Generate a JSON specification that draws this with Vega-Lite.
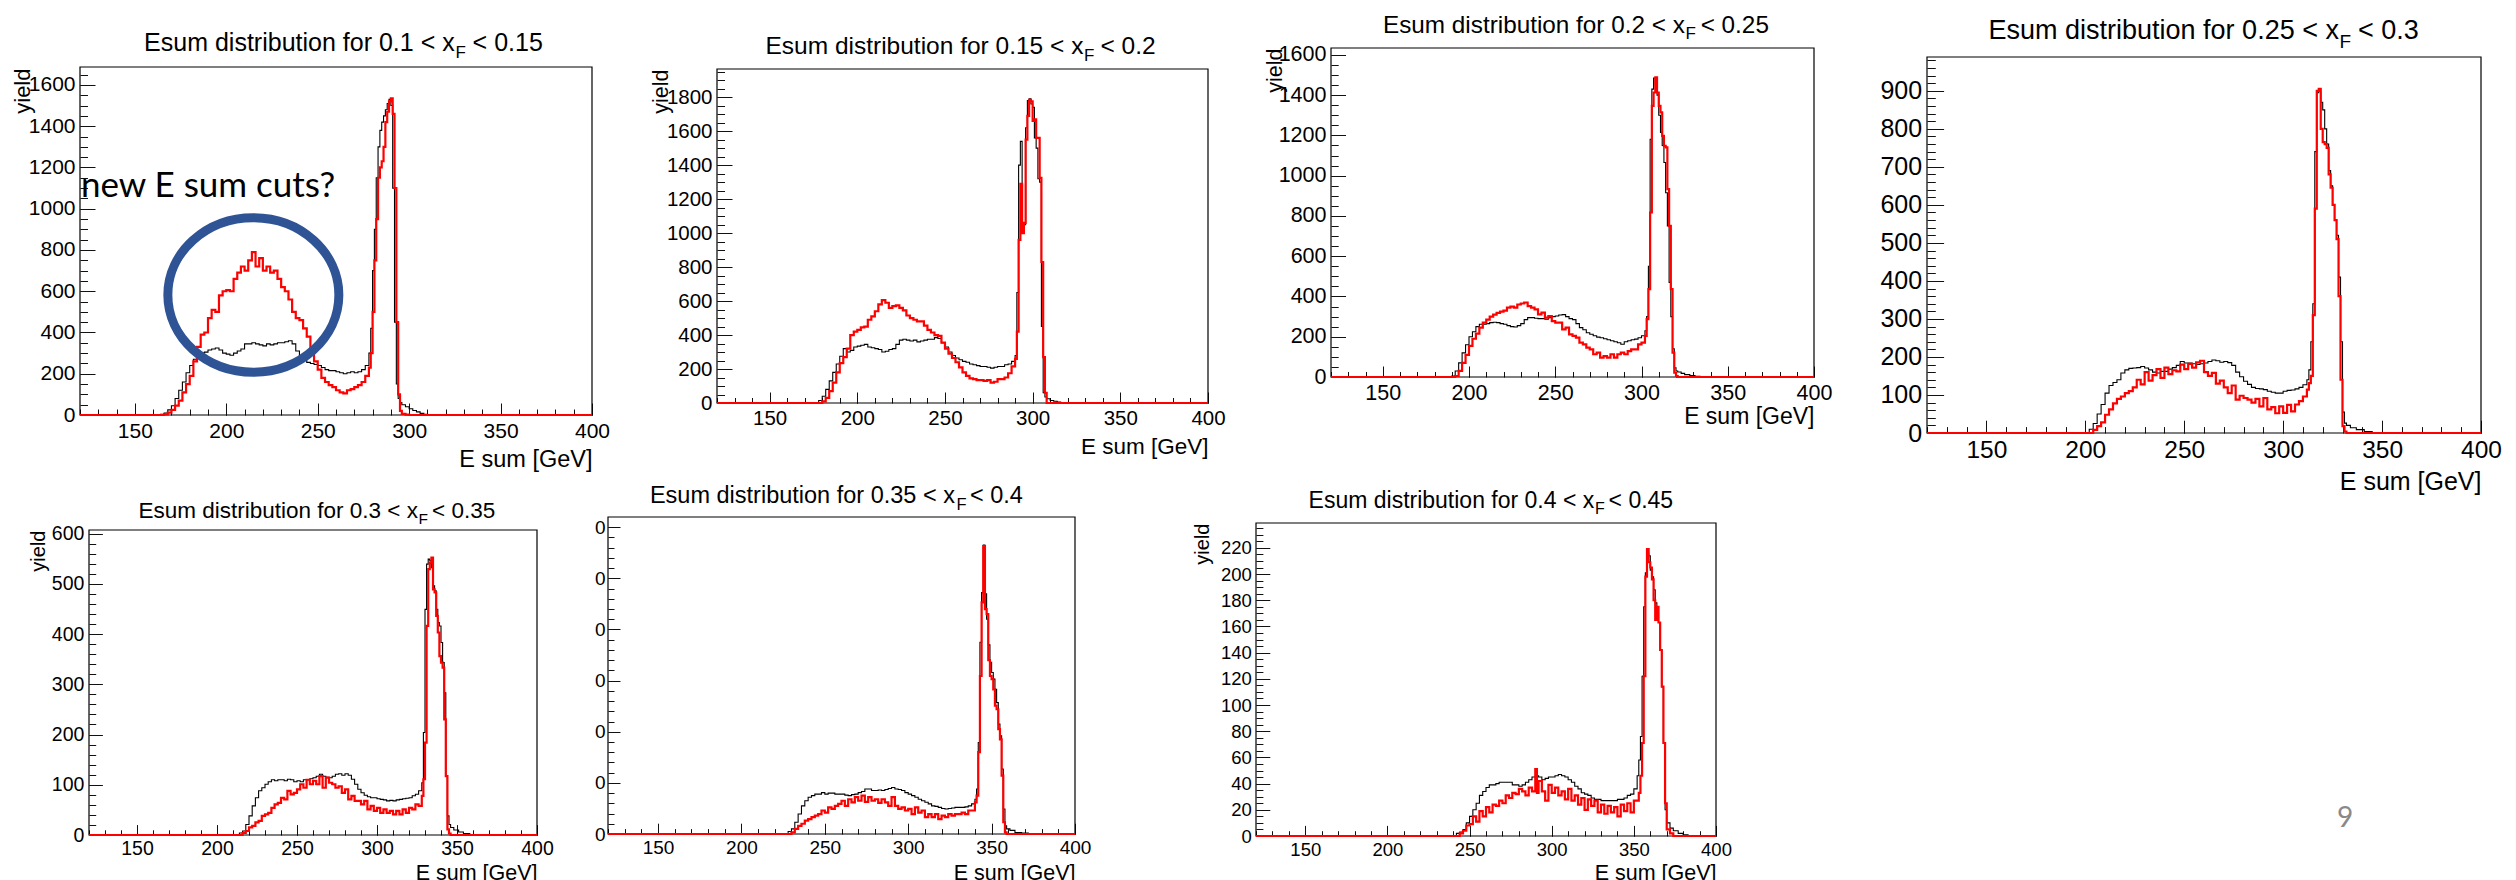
{
"$schema": "https://vega.github.io/schema/vega-lite/v6.json",
"background": "white",
"padding": 0,
"autosize": {"type": "pad"},
"columns": 8,
"spacing": 0,
"bounds": "flush",
"align": "each",
"config": {
  "view": {"stroke": null},
  "text": {"font": "Liberation Sans", "color": "#000"},
  "axis": {"labelFont": "Liberation Sans", "titleFont": "Liberation Sans", "labelColor": "#000", "titleColor": "#000", "tickColor": "#111", "tickWidth": 1, "domain": false, "grid": false, "titleFontWeight": "normal", "labelFlush": false, "labelOverlap": false, "format": "d"}
},
"datasets": {
"p1": [{"x":120,"k":0,"r":0},{"x":162,"k":0,"r":0},{"x":164,"k":3,"r":0},{"x":166,"k":10,"r":3},{"x":168,"k":25,"r":12},{"x":170,"k":45,"r":25},{"x":172,"k":80,"r":45},{"x":174,"k":120,"r":70},{"x":176,"k":160,"r":110},{"x":178,"k":205,"r":150},{"x":180,"k":240,"r":190},{"x":182,"k":270,"r":260},{"x":184,"k":295,"r":330},{"x":186,"k":300,"r":390},{"x":188,"k":305,"r":400},{"x":190,"k":315,"r":470},{"x":192,"k":320,"r":510},{"x":194,"k":325,"r":500},{"x":196,"k":315,"r":580},{"x":198,"k":300,"r":600},{"x":200,"k":295,"r":605},{"x":202,"k":290,"r":600},{"x":204,"k":300,"r":660},{"x":206,"k":310,"r":690},{"x":208,"k":320,"r":720},{"x":210,"k":345,"r":700},{"x":212,"k":345,"r":750},{"x":214,"k":350,"r":790},{"x":216,"k":345,"r":720},{"x":218,"k":340,"r":760},{"x":220,"k":335,"r":700},{"x":222,"k":345,"r":720},{"x":224,"k":340,"r":690},{"x":226,"k":345,"r":700},{"x":228,"k":350,"r":660},{"x":230,"k":350,"r":620},{"x":232,"k":355,"r":600},{"x":234,"k":360,"r":560},{"x":236,"k":345,"r":500},{"x":238,"k":310,"r":470},{"x":240,"k":280,"r":460},{"x":242,"k":265,"r":420},{"x":244,"k":255,"r":380},{"x":246,"k":250,"r":320},{"x":248,"k":245,"r":260},{"x":250,"k":240,"r":220},{"x":252,"k":230,"r":180},{"x":254,"k":220,"r":160},{"x":256,"k":215,"r":145},{"x":258,"k":215,"r":135},{"x":260,"k":210,"r":120},{"x":262,"k":205,"r":110},{"x":264,"k":200,"r":105},{"x":266,"k":205,"r":120},{"x":268,"k":210,"r":125},{"x":270,"k":205,"r":135},{"x":272,"k":210,"r":145},{"x":274,"k":220,"r":160},{"x":276,"k":240,"r":190},{"x":278,"k":300,"r":230},{"x":279,"k":420,"r":300},{"x":280,"k":700,"r":500},{"x":281,"k":900,"r":750},{"x":282,"k":1150,"r":950},{"x":283,"k":1300,"r":1150},{"x":284,"k":1380,"r":1200},{"x":285,"k":1420,"r":1230},{"x":286,"k":1450,"r":1300},{"x":287,"k":1480,"r":1420},{"x":288,"k":1510,"r":1470},{"x":289,"k":1530,"r":1520},{"x":290,"k":1500,"r":1535},{"x":291,"k":1100,"r":1460},{"x":292,"k":450,"r":1100},{"x":293,"k":150,"r":450},{"x":294,"k":80,"r":100},{"x":295,"k":60,"r":20},{"x":296,"k":50,"r":5},{"x":298,"k":40,"r":2},{"x":300,"k":30,"r":0},{"x":302,"k":22,"r":0},{"x":304,"k":15,"r":0},{"x":306,"k":8,"r":0},{"x":308,"k":3,"r":0},{"x":310,"k":0,"r":0},{"x":400,"k":0,"r":0}],
"p2": [{"x":120,"k":0,"r":0},{"x":176,"k":0,"r":0},{"x":178,"k":15,"r":0},{"x":180,"k":40,"r":10},{"x":182,"k":80,"r":30},{"x":184,"k":130,"r":70},{"x":186,"k":180,"r":120},{"x":188,"k":230,"r":180},{"x":190,"k":275,"r":235},{"x":192,"k":320,"r":270},{"x":194,"k":300,"r":320},{"x":196,"k":310,"r":400},{"x":198,"k":330,"r":420},{"x":200,"k":335,"r":430},{"x":202,"k":340,"r":445},{"x":204,"k":345,"r":450},{"x":206,"k":330,"r":490},{"x":208,"k":325,"r":510},{"x":210,"k":320,"r":540},{"x":212,"k":315,"r":580},{"x":214,"k":300,"r":605},{"x":216,"k":305,"r":590},{"x":218,"k":315,"r":560},{"x":220,"k":320,"r":570},{"x":222,"k":345,"r":575},{"x":224,"k":370,"r":560},{"x":226,"k":375,"r":545},{"x":228,"k":370,"r":515},{"x":230,"k":365,"r":500},{"x":232,"k":370,"r":490},{"x":234,"k":360,"r":480},{"x":236,"k":365,"r":480},{"x":238,"k":370,"r":455},{"x":240,"k":375,"r":430},{"x":242,"k":375,"r":415},{"x":244,"k":385,"r":400},{"x":246,"k":380,"r":395},{"x":248,"k":355,"r":355},{"x":250,"k":330,"r":320},{"x":252,"k":300,"r":290},{"x":254,"k":280,"r":265},{"x":256,"k":265,"r":240},{"x":258,"k":255,"r":210},{"x":260,"k":245,"r":180},{"x":262,"k":240,"r":160},{"x":264,"k":230,"r":145},{"x":266,"k":225,"r":140},{"x":268,"k":220,"r":135},{"x":270,"k":215,"r":135},{"x":272,"k":215,"r":130},{"x":274,"k":210,"r":135},{"x":276,"k":205,"r":120},{"x":278,"k":210,"r":125},{"x":280,"k":215,"r":140},{"x":282,"k":215,"r":140},{"x":284,"k":225,"r":150},{"x":286,"k":230,"r":175},{"x":288,"k":245,"r":215},{"x":290,"k":280,"r":260},{"x":291,"k":650,"r":420},{"x":292,"k":1400,"r":960},{"x":293,"k":1540,"r":1290},{"x":294,"k":1000,"r":1000},{"x":295,"k":1050,"r":1060},{"x":296,"k":1620,"r":1550},{"x":297,"k":1780,"r":1690},{"x":298,"k":1790,"r":1785},{"x":299,"k":1760,"r":1775},{"x":300,"k":1740,"r":1660},{"x":301,"k":1560,"r":1670},{"x":302,"k":1500,"r":1560},{"x":303,"k":1320,"r":1560},{"x":304,"k":1300,"r":1325},{"x":305,"k":450,"r":830},{"x":306,"k":60,"r":270},{"x":307,"k":35,"r":60},{"x":308,"k":25,"r":0},{"x":310,"k":15,"r":0},{"x":312,"k":10,"r":0},{"x":314,"k":6,"r":0},{"x":316,"k":3,"r":0},{"x":318,"k":0,"r":0},{"x":400,"k":0,"r":0}],
"p3": [{"x":120,"k":0,"r":0},{"x":188,"k":0,"r":0},{"x":190,"k":5,"r":0},{"x":192,"k":30,"r":5},{"x":194,"k":70,"r":30},{"x":196,"k":120,"r":70},{"x":198,"k":160,"r":110},{"x":200,"k":200,"r":155},{"x":202,"k":225,"r":190},{"x":204,"k":250,"r":215},{"x":206,"k":262,"r":245},{"x":208,"k":262,"r":270},{"x":210,"k":265,"r":285},{"x":212,"k":270,"r":300},{"x":214,"k":272,"r":310},{"x":216,"k":270,"r":318},{"x":218,"k":265,"r":325},{"x":220,"k":262,"r":330},{"x":222,"k":255,"r":345},{"x":224,"k":250,"r":350},{"x":226,"k":248,"r":345},{"x":228,"k":255,"r":360},{"x":230,"k":265,"r":365},{"x":232,"k":285,"r":370},{"x":234,"k":295,"r":352},{"x":236,"k":295,"r":345},{"x":238,"k":292,"r":336},{"x":240,"k":290,"r":311},{"x":242,"k":290,"r":320},{"x":244,"k":287,"r":295},{"x":246,"k":295,"r":303},{"x":248,"k":300,"r":278},{"x":250,"k":303,"r":270},{"x":252,"k":308,"r":270},{"x":254,"k":310,"r":237},{"x":256,"k":300,"r":245},{"x":258,"k":290,"r":212},{"x":260,"k":285,"r":204},{"x":262,"k":265,"r":196},{"x":264,"k":245,"r":171},{"x":266,"k":235,"r":162},{"x":268,"k":220,"r":146},{"x":270,"k":212,"r":137},{"x":272,"k":205,"r":113},{"x":274,"k":198,"r":121},{"x":276,"k":195,"r":96},{"x":278,"k":190,"r":104},{"x":280,"k":185,"r":96},{"x":282,"k":180,"r":113},{"x":284,"k":175,"r":96},{"x":286,"k":170,"r":113},{"x":288,"k":163,"r":121},{"x":290,"k":175,"r":113},{"x":292,"k":180,"r":129},{"x":294,"k":185,"r":137},{"x":296,"k":188,"r":137},{"x":298,"k":195,"r":162},{"x":300,"k":205,"r":171},{"x":302,"k":230,"r":204},{"x":303,"k":300,"r":287},{"x":304,"k":550,"r":436},{"x":305,"k":1180,"r":817},{"x":306,"k":1430,"r":1347},{"x":307,"k":1485,"r":1413},{"x":308,"k":1450,"r":1488},{"x":309,"k":1400,"r":1413},{"x":310,"k":1300,"r":1347},{"x":311,"k":1215,"r":1314},{"x":312,"k":1150,"r":1198},{"x":313,"k":1065,"r":1148},{"x":314,"k":915,"r":1140},{"x":315,"k":750,"r":933},{"x":316,"k":470,"r":751},{"x":317,"k":300,"r":436},{"x":318,"k":140,"r":121},{"x":319,"k":46,"r":21},{"x":320,"k":30,"r":5},{"x":321,"k":25,"r":0},{"x":323,"k":18,"r":0},{"x":325,"k":12,"r":0},{"x":328,"k":7,"r":0},{"x":331,"k":4,"r":0},{"x":334,"k":0,"r":0},{"x":400,"k":0,"r":0}],
"p4": [{"x":120,"k":0,"r":0},{"x":200,"k":0,"r":0},{"x":202,"k":10,"r":0},{"x":204,"k":25,"r":8},{"x":206,"k":50,"r":18},{"x":208,"k":75,"r":28},{"x":210,"k":105,"r":48},{"x":212,"k":125,"r":62},{"x":214,"k":133,"r":78},{"x":216,"k":140,"r":90},{"x":218,"k":158,"r":96},{"x":220,"k":166,"r":105},{"x":222,"k":170,"r":110},{"x":224,"k":171,"r":120},{"x":226,"k":172,"r":140},{"x":228,"k":175,"r":128},{"x":230,"k":171,"r":160},{"x":232,"k":166,"r":138},{"x":234,"k":160,"r":152},{"x":236,"k":158,"r":168},{"x":238,"k":162,"r":145},{"x":240,"k":162,"r":172},{"x":242,"k":168,"r":155},{"x":244,"k":172,"r":165},{"x":246,"k":178,"r":162},{"x":248,"k":188,"r":180},{"x":250,"k":184,"r":168},{"x":252,"k":184,"r":182},{"x":254,"k":182,"r":172},{"x":256,"k":180,"r":186},{"x":258,"k":182,"r":190},{"x":260,"k":184,"r":160},{"x":262,"k":188,"r":150},{"x":264,"k":192,"r":158},{"x":266,"k":190,"r":130},{"x":268,"k":186,"r":138},{"x":270,"k":188,"r":120},{"x":272,"k":185,"r":105},{"x":274,"k":178,"r":125},{"x":276,"k":160,"r":88},{"x":278,"k":148,"r":98},{"x":280,"k":136,"r":92},{"x":282,"k":128,"r":88},{"x":284,"k":120,"r":80},{"x":286,"k":117,"r":90},{"x":288,"k":116,"r":70},{"x":290,"k":114,"r":92},{"x":292,"k":110,"r":62},{"x":294,"k":107,"r":68},{"x":296,"k":105,"r":52},{"x":298,"k":105,"r":70},{"x":300,"k":110,"r":53},{"x":302,"k":112,"r":74},{"x":304,"k":113,"r":57},{"x":306,"k":116,"r":75},{"x":308,"k":120,"r":84},{"x":310,"k":127,"r":96},{"x":312,"k":140,"r":114},{"x":313,"k":166,"r":131},{"x":314,"k":240,"r":150},{"x":315,"k":340,"r":310},{"x":316,"k":740,"r":590},{"x":317,"k":895,"r":900},{"x":318,"k":900,"r":905},{"x":319,"k":870,"r":800},{"x":320,"k":850,"r":765},{"x":321,"k":800,"r":760},{"x":322,"k":760,"r":750},{"x":323,"k":690,"r":680},{"x":324,"k":650,"r":645},{"x":325,"k":600,"r":600},{"x":326,"k":560,"r":560},{"x":327,"k":520,"r":510},{"x":328,"k":410,"r":360},{"x":329,"k":240,"r":140},{"x":330,"k":55,"r":18},{"x":331,"k":26,"r":4},{"x":332,"k":20,"r":0},{"x":334,"k":14,"r":0},{"x":337,"k":9,"r":0},{"x":341,"k":4,"r":0},{"x":345,"k":0,"r":0},{"x":400,"k":0,"r":0}],
"p5": [{"x":120,"k":0,"r":0},{"x":212,"k":0,"r":0},{"x":214,"k":4,"r":0},{"x":216,"k":8,"r":4},{"x":218,"k":21,"r":8},{"x":220,"k":38,"r":15},{"x":222,"k":58,"r":18},{"x":224,"k":74,"r":25},{"x":226,"k":88,"r":28},{"x":228,"k":94,"r":38},{"x":230,"k":101,"r":41},{"x":232,"k":106,"r":44},{"x":234,"k":110,"r":54},{"x":236,"k":108,"r":61},{"x":238,"k":110,"r":64},{"x":240,"k":110,"r":74},{"x":242,"k":108,"r":71},{"x":244,"k":111,"r":88},{"x":246,"k":110,"r":81},{"x":248,"k":106,"r":84},{"x":250,"k":108,"r":91},{"x":252,"k":106,"r":101},{"x":254,"k":110,"r":94},{"x":256,"k":110,"r":110},{"x":258,"k":112,"r":101},{"x":260,"k":114,"r":108},{"x":262,"k":117,"r":101},{"x":264,"k":121,"r":117},{"x":266,"k":117,"r":94},{"x":268,"k":115,"r":114},{"x":270,"k":114,"r":104},{"x":272,"k":117,"r":101},{"x":274,"k":121,"r":94},{"x":276,"k":122,"r":97},{"x":278,"k":119,"r":84},{"x":280,"k":122,"r":91},{"x":282,"k":119,"r":71},{"x":284,"k":111,"r":78},{"x":286,"k":101,"r":68},{"x":288,"k":91,"r":68},{"x":290,"k":84,"r":61},{"x":292,"k":79,"r":68},{"x":294,"k":76,"r":51},{"x":296,"k":74,"r":58},{"x":298,"k":74,"r":48},{"x":300,"k":72,"r":54},{"x":302,"k":71,"r":44},{"x":304,"k":70,"r":51},{"x":306,"k":68,"r":44},{"x":308,"k":69,"r":48},{"x":310,"k":68,"r":41},{"x":312,"k":70,"r":48},{"x":314,"k":71,"r":41},{"x":316,"k":72,"r":51},{"x":318,"k":73,"r":44},{"x":320,"k":74,"r":54},{"x":322,"k":78,"r":51},{"x":324,"k":81,"r":61},{"x":326,"k":88,"r":58},{"x":328,"k":104,"r":78},{"x":329,"k":204,"r":111},{"x":330,"k":449,"r":184},{"x":331,"k":539,"r":416},{"x":332,"k":549,"r":529},{"x":333,"k":546,"r":542},{"x":334,"k":532,"r":552},{"x":335,"k":496,"r":489},{"x":336,"k":486,"r":483},{"x":337,"k":449,"r":436},{"x":338,"k":423,"r":403},{"x":339,"k":416,"r":356},{"x":340,"k":383,"r":343},{"x":341,"k":343,"r":333},{"x":342,"k":283,"r":230},{"x":343,"k":117,"r":117},{"x":344,"k":38,"r":11},{"x":345,"k":21,"r":3},{"x":346,"k":15,"r":0},{"x":348,"k":10,"r":0},{"x":351,"k":6,"r":0},{"x":354,"k":3,"r":0},{"x":358,"k":0,"r":0},{"x":400,"k":0,"r":0}],
"p6": [{"x":120,"k":0,"r":0},{"x":226,"k":0,"r":0},{"x":228,"k":5,"r":0},{"x":230,"k":10,"r":3},{"x":232,"k":23,"r":10},{"x":234,"k":39,"r":16},{"x":236,"k":55,"r":20},{"x":238,"k":65,"r":26},{"x":240,"k":72,"r":29},{"x":242,"k":75,"r":33},{"x":244,"k":78,"r":36},{"x":246,"k":78,"r":39},{"x":248,"k":81,"r":46},{"x":250,"k":78,"r":42},{"x":252,"k":80,"r":52},{"x":254,"k":80,"r":49},{"x":256,"k":78,"r":55},{"x":258,"k":78,"r":59},{"x":260,"k":78,"r":65},{"x":262,"k":76,"r":55},{"x":264,"k":75,"r":68},{"x":266,"k":77,"r":62},{"x":268,"k":78,"r":72},{"x":270,"k":81,"r":65},{"x":272,"k":83,"r":75},{"x":274,"k":88,"r":63},{"x":276,"k":88,"r":72},{"x":278,"k":85,"r":65},{"x":280,"k":85,"r":68},{"x":282,"k":86,"r":61},{"x":284,"k":85,"r":68},{"x":286,"k":87,"r":62},{"x":288,"k":89,"r":55},{"x":290,"k":91,"r":72},{"x":292,"k":88,"r":55},{"x":294,"k":87,"r":49},{"x":296,"k":85,"r":52},{"x":298,"k":81,"r":46},{"x":300,"k":78,"r":49},{"x":302,"k":75,"r":39},{"x":304,"k":72,"r":52},{"x":306,"k":68,"r":42},{"x":308,"k":65,"r":46},{"x":310,"k":62,"r":33},{"x":312,"k":59,"r":39},{"x":314,"k":55,"r":33},{"x":316,"k":54,"r":39},{"x":318,"k":52,"r":29},{"x":320,"k":50,"r":36},{"x":322,"k":49,"r":33},{"x":324,"k":50,"r":39},{"x":326,"k":51,"r":36},{"x":328,"k":52,"r":39},{"x":330,"k":52,"r":39},{"x":332,"k":52,"r":42},{"x":334,"k":53,"r":39},{"x":336,"k":55,"r":46},{"x":338,"k":59,"r":46},{"x":340,"k":68,"r":62},{"x":341,"k":88,"r":75},{"x":342,"k":179,"r":160},{"x":343,"k":375,"r":309},{"x":344,"k":472,"r":453},{"x":345,"k":565,"r":563},{"x":346,"k":470,"r":440},{"x":347,"k":420,"r":430},{"x":348,"k":370,"r":340},{"x":349,"k":336,"r":309},{"x":350,"k":316,"r":303},{"x":351,"k":303,"r":283},{"x":352,"k":283,"r":251},{"x":353,"k":257,"r":244},{"x":354,"k":215,"r":205},{"x":355,"k":192,"r":185},{"x":356,"k":127,"r":114},{"x":357,"k":49,"r":23},{"x":358,"k":16,"r":3},{"x":359,"k":10,"r":0},{"x":361,"k":7,"r":0},{"x":364,"k":3,"r":0},{"x":368,"k":2,"r":0},{"x":372,"k":0,"r":0},{"x":400,"k":0,"r":0}],
"p7": [{"x":120,"k":0,"r":0},{"x":240,"k":0,"r":0},{"x":242,"k":2,"r":0},{"x":244,"k":3,"r":2},{"x":246,"k":5,"r":4},{"x":248,"k":10,"r":8},{"x":250,"k":15,"r":9},{"x":252,"k":20,"r":15},{"x":254,"k":25,"r":11},{"x":256,"k":31,"r":19},{"x":258,"k":34,"r":15},{"x":260,"k":37,"r":22},{"x":262,"k":39,"r":18},{"x":264,"k":39,"r":24},{"x":266,"k":40,"r":23},{"x":268,"k":41,"r":27},{"x":270,"k":41,"r":25},{"x":272,"k":41,"r":31},{"x":274,"k":41,"r":29},{"x":276,"k":39,"r":33},{"x":278,"k":39,"r":32},{"x":280,"k":38,"r":36},{"x":282,"k":39,"r":34},{"x":284,"k":41,"r":31},{"x":286,"k":43,"r":37},{"x":288,"k":45,"r":34},{"x":290,"k":46,"r":51},{"x":291,"k":46,"r":33},{"x":292,"k":45,"r":42},{"x":294,"k":43,"r":34},{"x":296,"k":44,"r":27},{"x":298,"k":45,"r":39},{"x":300,"k":45,"r":33},{"x":302,"k":46,"r":37},{"x":304,"k":47,"r":31},{"x":306,"k":46,"r":34},{"x":308,"k":45,"r":28},{"x":310,"k":43,"r":36},{"x":312,"k":41,"r":27},{"x":314,"k":38,"r":31},{"x":316,"k":36,"r":24},{"x":318,"k":33,"r":29},{"x":320,"k":32,"r":20},{"x":322,"k":31,"r":28},{"x":324,"k":29,"r":23},{"x":326,"k":28,"r":27},{"x":328,"k":28,"r":18},{"x":330,"k":27,"r":24},{"x":332,"k":27,"r":17},{"x":334,"k":27,"r":23},{"x":336,"k":27,"r":18},{"x":338,"k":27,"r":22},{"x":340,"k":28,"r":15},{"x":342,"k":28,"r":24},{"x":344,"k":29,"r":19},{"x":346,"k":31,"r":25},{"x":348,"k":32,"r":18},{"x":350,"k":36,"r":27},{"x":352,"k":46,"r":27},{"x":353,"k":58,"r":33},{"x":354,"k":76,"r":46},{"x":355,"k":122,"r":71},{"x":356,"k":175,"r":122},{"x":357,"k":201,"r":198},{"x":358,"k":216,"r":219},{"x":359,"k":214,"r":209},{"x":360,"k":203,"r":205},{"x":361,"k":198,"r":196},{"x":362,"k":188,"r":180},{"x":363,"k":178,"r":165},{"x":364,"k":170,"r":175},{"x":365,"k":163,"r":163},{"x":366,"k":142,"r":142},{"x":367,"k":114,"r":114},{"x":368,"k":71,"r":71},{"x":369,"k":20,"r":25},{"x":370,"k":10,"r":5},{"x":372,"k":6,"r":2},{"x":374,"k":4,"r":0},{"x":377,"k":2,"r":0},{"x":380,"k":1,"r":0},{"x":383,"k":0,"r":0},{"x":400,"k":0,"r":0}]
},
"concat": [
{"width":80,"height":1,"data":{"values":[{}]},"mark":{"type":"text","text":""}},
{
 "width":512,"height":409,"data":{"name":"p1"},
 "resolve":{"axis":{"x":"independent","y":"independent"}},
 "layer":[
  {"data":{"values":[{}]},"mark":{"type":"rect","fill":"transparent","stroke":"#000","strokeWidth":1.2},
   "encoding":{"x":{"datum":120,"type":"quantitative","scale":{"domain":[120,400],"nice":false,"zero":false},"axis":null},"x2":{"datum":400},
     "y":{"datum":0,"type":"quantitative","scale":{"domain":[0,1982.7],"nice":false},"axis":null},"y2":{"datum":1687}}},
  {"mark":{"type":"line","interpolate":"step-after","color":"#000","strokeWidth":1.1},
   "encoding":{"x":{"field":"x","type":"quantitative","scale":{"domain":[120,400],"nice":false,"zero":false},
      "axis":{"orient":"bottom","values":[150,200,250,300,350,400],"tickSize":-12,"labelPadding":17,"labelFontSize":21,"title":"E sum [GeV]","titleFontSize":23.5,"titleX":512,"titleY":51,"titleAlign":"right","titleBaseline":"alphabetic"}},
     "y":{"field":"k","type":"quantitative","scale":{"domain":[0,1982.7],"nice":false},
      "axis":{"orient":"left","values":[0,200,400,600,800,1000,1200,1400,1600],"tickSize":-15,"labelPadding":20,"labelFontSize":21,"title":"yield","titleFontSize":22,"titleAngle":270,"titleAlign":"right","titleBaseline":"alphabetic","titleX":-51,"titleY":62}}}},
  {"mark":{"type":"line","interpolate":"step-after","color":"#ff0000","strokeWidth":2.2},
   "encoding":{"x":{"field":"x","type":"quantitative","scale":{"domain":[120,400],"nice":false,"zero":false},
      "axis":{"orient":"bottom","values":[120,130,140,150,160,170,180,190,200,210,220,230,240,250,260,270,280,290,300,310,320,330,340,350,360,370,380,390,400],"tickSize":-6,"labels":false,"title":null}},
     "y":{"field":"r","type":"quantitative","scale":{"domain":[0,1982.7],"nice":false},
      "axis":{"orient":"left","values":[0,50,100,150,200,250,300,350,400,450,500,550,600,650,700,750,800,850,900,950,1000,1050,1100,1150,1200,1250,1300,1350,1400,1450,1500,1550,1600,1650],"tickSize":-7.5,"labels":false,"title":null}}}},
  {"data":{"values":[{}]},"mark":{"type":"text","text":"Esum distribution for 0.1  < x","align":"right","baseline":"alphabetic","fontSize":25},
   "encoding":{"x":{"datum":324.9,"type":"quantitative","scale":{"domain":[120,400],"nice":false,"zero":false},"axis":null},"y":{"datum":1764.5,"type":"quantitative","scale":{"domain":[0,1982.7],"nice":false},"axis":null}}},
  {"data":{"values":[{}]},"mark":{"type":"text","text":"F","align":"left","baseline":"alphabetic","fontSize":17},
   "encoding":{"x":{"datum":325.3,"type":"quantitative","scale":{"domain":[120,400],"nice":false,"zero":false},"axis":null},"y":{"datum":1730.7,"type":"quantitative","scale":{"domain":[0,1982.7],"nice":false},"axis":null}}},
  {"data":{"values":[{}]},"mark":{"type":"text","text":"< 0.15","align":"left","baseline":"alphabetic","fontSize":25},
   "encoding":{"x":{"datum":334.7,"type":"quantitative","scale":{"domain":[120,400],"nice":false,"zero":false},"axis":null},"y":{"datum":1764.5,"type":"quantitative","scale":{"domain":[0,1982.7],"nice":false},"axis":null}}},
  {"data":{"values":[{}]},"mark":{"type":"point","shape":"M1.1075,0C1.1075,0.5523,0.6117,1,0,1C-0.6117,1,-1.1075,0.5523,-1.1075,0C-1.1075,-0.5523,-0.6117,-1,0,-1C0.6117,-1,1.1075,-0.5523,1.1075,0Z","size":23840,"filled":false,"stroke":"#2F5496","strokeWidth":9,"opacity":1},
   "encoding":{"x":{"datum":214.8,"type":"quantitative","scale":{"domain":[120,400],"nice":false,"zero":false},"axis":null},"y":{"datum":581.7,"type":"quantitative","scale":{"domain":[0,1982.7],"nice":false},"axis":null}}},
  {"data":{"values":[{}]},"mark":{"type":"text","text":"new E sum cuts?","align":"left","baseline":"alphabetic","fontSize":35,"font":"Lato"},
   "encoding":{"x":{"datum":120.5,"type":"quantitative","scale":{"domain":[120,400],"nice":false,"zero":false},"axis":null},"y":{"datum":1058.3,"type":"quantitative","scale":{"domain":[0,1982.7],"nice":false},"axis":null}}}
 ]
},
{"width":16,"height":1,"data":{"values":[{}]},"mark":{"type":"text","text":""}},
{
 "width":600,"height":397,"data":{"name":"p2"},
 "resolve":{"axis":{"x":"independent","y":"independent"}},
 "layer":[
  {"data":{"values":[{}]},"mark":{"type":"rect","fill":"transparent","stroke":"#000","strokeWidth":1.2},
   "encoding":{"x":{"datum":120,"type":"quantitative","scale":{"domain":[57.84,400],"nice":false,"zero":false},"axis":null},"x2":{"datum":400},
     "y":{"datum":0,"type":"quantitative","scale":{"domain":[0,2336.8],"nice":false},"axis":null},"y2":{"datum":1966}}},
  {"mark":{"type":"line","interpolate":"step-after","color":"#000","strokeWidth":1.1},
   "encoding":{"x":{"field":"x","type":"quantitative","scale":{"domain":[57.84,400],"nice":false,"zero":false},
      "axis":{"orient":"bottom","values":[150,200,250,300,350,400],"tickSize":-11,"labelPadding":16,"labelFontSize":20.5,"title":"E sum [GeV]","titleFontSize":22.5,"titleX":600,"titleY":50,"titleAlign":"right","titleBaseline":"alphabetic"}},
     "y":{"field":"k","type":"quantitative","scale":{"domain":[0,2336.8],"nice":false},
      "axis":{"orient":"left","offset":-109,"values":[0,200,400,600,800,1000,1200,1400,1600,1800],"tickSize":-15,"labelPadding":20,"labelFontSize":20.5,"title":"yield","titleFontSize":21.5,"titleAngle":270,"titleAlign":"right","titleBaseline":"alphabetic","titleX":-50,"titleY":63}}}},
  {"mark":{"type":"line","interpolate":"step-after","color":"#ff0000","strokeWidth":2.2},
   "encoding":{"x":{"field":"x","type":"quantitative","scale":{"domain":[57.84,400],"nice":false,"zero":false},
      "axis":{"orient":"bottom","values":[120,130,140,150,160,170,180,190,200,210,220,230,240,250,260,270,280,290,300,310,320,330,340,350,360,370,380,390,400],"tickSize":-5.5,"labels":false,"title":null}},
     "y":{"field":"r","type":"quantitative","scale":{"domain":[0,2336.8],"nice":false},
      "axis":{"orient":"left","offset":-109,"values":[0,50,100,150,200,250,300,350,400,450,500,550,600,650,700,750,800,850,900,950,1000,1050,1100,1150,1200,1250,1300,1350,1400,1450,1500,1550,1600,1650,1700,1750,1800,1850,1900,1950],"tickSize":-7.5,"labels":false,"title":null}}}},
  {"data":{"values":[{}]},"mark":{"type":"text","text":"Esum distribution for 0.15 < x","align":"right","baseline":"alphabetic","fontSize":24.5},
   "encoding":{"x":{"datum":328.96,"type":"quantitative","scale":{"domain":[57.84,400],"nice":false,"zero":false},"axis":null},"y":{"datum":2052.4,"type":"quantitative","scale":{"domain":[0,2336.8],"nice":false},"axis":null}}},
  {"data":{"values":[{}]},"mark":{"type":"text","text":"F","align":"left","baseline":"alphabetic","fontSize":17},
   "encoding":{"x":{"datum":329.3,"type":"quantitative","scale":{"domain":[57.84,400],"nice":false,"zero":false},"axis":null},"y":{"datum":2013,"type":"quantitative","scale":{"domain":[0,2336.8],"nice":false},"axis":null}}},
  {"data":{"values":[{}]},"mark":{"type":"text","text":"< 0.2","align":"left","baseline":"alphabetic","fontSize":24.5},
   "encoding":{"x":{"datum":338.65,"type":"quantitative","scale":{"domain":[57.84,400],"nice":false,"zero":false},"axis":null},"y":{"datum":2052.4,"type":"quantitative","scale":{"domain":[0,2336.8],"nice":false},"axis":null}}}
 ]
},
{"width":48,"height":1,"data":{"values":[{}]},"mark":{"type":"text","text":""}},
{
 "width":558,"height":371,"data":{"name":"p3"},
 "resolve":{"axis":{"x":"independent","y":"independent"}},
 "layer":[
  {"data":{"values":[{}]},"mark":{"type":"rect","fill":"transparent","stroke":"#000","strokeWidth":1.2},
   "encoding":{"x":{"datum":120,"type":"quantitative","scale":{"domain":[76.52,400],"nice":false,"zero":false},"axis":null},"x2":{"datum":400},
     "y":{"datum":0,"type":"quantitative","scale":{"domain":[0,1842.6],"nice":false},"axis":null},"y2":{"datum":1634}}},
  {"mark":{"type":"line","interpolate":"step-after","color":"#000","strokeWidth":1.1},
   "encoding":{"x":{"field":"x","type":"quantitative","scale":{"domain":[76.52,400],"nice":false,"zero":false},
      "axis":{"orient":"bottom","values":[150,200,250,300,350,400],"tickSize":-11,"labelPadding":16,"labelFontSize":21.5,"title":"E sum [GeV]","titleFontSize":23,"titleX":558,"titleY":46,"titleAlign":"right","titleBaseline":"alphabetic"}},
     "y":{"field":"k","type":"quantitative","scale":{"domain":[0,1842.6],"nice":false},
      "axis":{"orient":"left","offset":-75,"values":[0,200,400,600,800,1000,1200,1400,1600],"tickSize":-14.5,"labelPadding":19.5,"labelFontSize":21.5,"title":"yield","titleFontSize":21.5,"titleAngle":270,"titleAlign":"right","titleBaseline":"alphabetic","titleX":-50,"titleY":42}}}},
  {"mark":{"type":"line","interpolate":"step-after","color":"#ff0000","strokeWidth":2.2},
   "encoding":{"x":{"field":"x","type":"quantitative","scale":{"domain":[76.52,400],"nice":false,"zero":false},
      "axis":{"orient":"bottom","values":[120,130,140,150,160,170,180,190,200,210,220,230,240,250,260,270,280,290,300,310,320,330,340,350,360,370,380,390,400],"tickSize":-5.5,"labels":false,"title":null}},
     "y":{"field":"r","type":"quantitative","scale":{"domain":[0,1842.6],"nice":false},
      "axis":{"orient":"left","offset":-75,"values":[0,50,100,150,200,250,300,350,400,450,500,550,600,650,700,750,800,850,900,950,1000,1050,1100,1150,1200,1250,1300,1350,1400,1450,1500,1550,1600],"tickSize":-7.2,"labels":false,"title":null}}}},
  {"data":{"values":[{}]},"mark":{"type":"text","text":"Esum distribution for 0.2  < x","align":"right","baseline":"alphabetic","fontSize":24.3},
   "encoding":{"x":{"datum":325.1,"type":"quantitative","scale":{"domain":[76.52,400],"nice":false,"zero":false},"axis":null},"y":{"datum":1710.2,"type":"quantitative","scale":{"domain":[0,1842.6],"nice":false},"axis":null}}},
  {"data":{"values":[{}]},"mark":{"type":"text","text":"F","align":"left","baseline":"alphabetic","fontSize":17},
   "encoding":{"x":{"datum":325.5,"type":"quantitative","scale":{"domain":[76.52,400],"nice":false,"zero":false},"axis":null},"y":{"datum":1678.8,"type":"quantitative","scale":{"domain":[0,1842.6],"nice":false},"axis":null}}},
  {"data":{"values":[{}]},"mark":{"type":"text","text":"< 0.25","align":"left","baseline":"alphabetic","fontSize":24.3},
   "encoding":{"x":{"datum":334.3,"type":"quantitative","scale":{"domain":[76.52,400],"nice":false,"zero":false},"axis":null},"y":{"datum":1710.2,"type":"quantitative","scale":{"domain":[0,1842.6],"nice":false},"axis":null}}}
 ]
},
{"width":113,"height":1,"data":{"values":[{}]},"mark":{"type":"text","text":""}},
{
 "width":554,"height":427,"data":{"name":"p4"},
 "resolve":{"axis":{"x":"independent","y":"independent"}},
 "layer":[
  {"data":{"values":[{}]},"mark":{"type":"rect","fill":"transparent","stroke":"#000","strokeWidth":1.2},
   "encoding":{"x":{"datum":120,"type":"quantitative","scale":{"domain":[120,400],"nice":false,"zero":false},"axis":null},"x2":{"datum":400},
     "y":{"datum":0,"type":"quantitative","scale":{"domain":[0,1123.1],"nice":false},"axis":null},"y2":{"datum":989}}},
  {"mark":{"type":"line","interpolate":"step-after","color":"#000","strokeWidth":1.1},
   "encoding":{"x":{"field":"x","type":"quantitative","scale":{"domain":[120,400],"nice":false,"zero":false},
      "axis":{"orient":"bottom","values":[150,200,250,300,350,400],"tickSize":-12.8,"labelPadding":18,"labelFontSize":24.5,"title":"E sum [GeV]","titleFontSize":25,"titleX":554,"titleY":56,"titleAlign":"right","titleBaseline":"alphabetic"}},
     "y":{"field":"k","type":"quantitative","scale":{"domain":[0,1123.1],"nice":false},
      "axis":{"orient":"left","values":[0,100,200,300,400,500,600,700,800,900],"tickSize":-16.6,"labelPadding":22,"labelFontSize":25,"title":null}}}},
  {"mark":{"type":"line","interpolate":"step-after","color":"#ff0000","strokeWidth":2.2},
   "encoding":{"x":{"field":"x","type":"quantitative","scale":{"domain":[120,400],"nice":false,"zero":false},
      "axis":{"orient":"bottom","values":[120,130,140,150,160,170,180,190,200,210,220,230,240,250,260,270,280,290,300,310,320,330,340,350,360,370,380,390,400],"tickSize":-6.4,"labels":false,"title":null}},
     "y":{"field":"r","type":"quantitative","scale":{"domain":[0,1123.1],"nice":false},
      "axis":{"orient":"left","values":[0,20,40,60,80,100,120,140,160,180,200,220,240,260,280,300,320,340,360,380,400,420,440,460,480,500,520,540,560,580,600,620,640,660,680,700,720,740,760,780,800,820,840,860,880,900,920,940,960,980],"tickSize":-8.3,"labels":false,"title":null}}}},
  {"data":{"values":[{}]},"mark":{"type":"text","text":"Esum distribution for 0.25 < x","align":"right","baseline":"alphabetic","fontSize":27},
   "encoding":{"x":{"datum":328.2,"type":"quantitative","scale":{"domain":[120,400],"nice":false,"zero":false},"axis":null},"y":{"datum":1035.4,"type":"quantitative","scale":{"domain":[0,1123.1],"nice":false},"axis":null}}},
  {"data":{"values":[{}]},"mark":{"type":"text","text":"F","align":"left","baseline":"alphabetic","fontSize":19},
   "encoding":{"x":{"datum":328.5,"type":"quantitative","scale":{"domain":[120,400],"nice":false,"zero":false},"axis":null},"y":{"datum":1013.3,"type":"quantitative","scale":{"domain":[0,1123.1],"nice":false},"axis":null}}},
  {"data":{"values":[{}]},"mark":{"type":"text","text":"< 0.3","align":"left","baseline":"alphabetic","fontSize":27},
   "encoding":{"x":{"datum":337.8,"type":"quantitative","scale":{"domain":[120,400],"nice":false,"zero":false},"axis":null},"y":{"datum":1035.4,"type":"quantitative","scale":{"domain":[0,1123.1],"nice":false},"axis":null}}}
 ]
},

{"width":80,"height":1,"data":{"values":[{}]},"mark":{"type":"text","text":""}},
{
 "width":457,"height":402,"data":{"name":"p5"},
 "resolve":{"axis":{"x":"independent","y":"independent"}},
 "layer":[
  {"data":{"values":[{}]},"mark":{"type":"rect","fill":"transparent","stroke":"#000","strokeWidth":1.2},
   "encoding":{"x":{"datum":120,"type":"quantitative","scale":{"domain":[114.375,400],"nice":false,"zero":false},"axis":null},"x2":{"datum":400},
     "y":{"datum":0,"type":"quantitative","scale":{"domain":[0,800.05],"nice":false},"axis":null},"y2":{"datum":607}}},
  {"mark":{"type":"line","interpolate":"step-after","color":"#000","strokeWidth":1.1},
   "encoding":{"x":{"field":"x","type":"quantitative","scale":{"domain":[114.375,400],"nice":false,"zero":false},
      "axis":{"orient":"bottom","values":[150,200,250,300,350,400],"tickSize":-10.4,"labelPadding":15,"labelFontSize":19.5,"title":"E sum [GeV]","titleFontSize":21.5,"titleX":457,"titleY":44,"titleAlign":"right","titleBaseline":"alphabetic"}},
     "y":{"field":"k","type":"quantitative","scale":{"domain":[0,800.05],"nice":false},
      "axis":{"orient":"left","offset":-9,"values":[0,100,200,300,400,500,600],"tickSize":-13.4,"labelPadding":18.5,"labelFontSize":19.5,"title":"yield","titleFontSize":20,"titleAngle":270,"titleAlign":"right","titleBaseline":"alphabetic","titleX":-45,"titleY":97}}}},
  {"mark":{"type":"line","interpolate":"step-after","color":"#ff0000","strokeWidth":2.2},
   "encoding":{"x":{"field":"x","type":"quantitative","scale":{"domain":[114.375,400],"nice":false,"zero":false},
      "axis":{"orient":"bottom","values":[120,130,140,150,160,170,180,190,200,210,220,230,240,250,260,270,280,290,300,310,320,330,340,350,360,370,380,390,400],"tickSize":-5.2,"labels":false,"title":null}},
     "y":{"field":"r","type":"quantitative","scale":{"domain":[0,800.05],"nice":false},
      "axis":{"orient":"left","offset":-9,"values":[0,20,40,60,80,100,120,140,160,180,200,220,240,260,280,300,320,340,360,380,400,420,440,460,480,500,520,540,560,580,600],"tickSize":-6.7,"labels":false,"title":null}}}},
  {"data":{"values":[{}]},"mark":{"type":"text","text":"Esum distribution for 0.3  < x","align":"right","baseline":"alphabetic","fontSize":22.5},
   "encoding":{"x":{"datum":325.6,"type":"quantitative","scale":{"domain":[114.375,400],"nice":false,"zero":false},"axis":null},"y":{"datum":631.4,"type":"quantitative","scale":{"domain":[0,800.05],"nice":false},"axis":null}}},
  {"data":{"values":[{}]},"mark":{"type":"text","text":"F","align":"left","baseline":"alphabetic","fontSize":15.5},
   "encoding":{"x":{"datum":326,"type":"quantitative","scale":{"domain":[114.375,400],"nice":false,"zero":false},"axis":null},"y":{"datum":618.9,"type":"quantitative","scale":{"domain":[0,800.05],"nice":false},"axis":null}}},
  {"data":{"values":[{}]},"mark":{"type":"text","text":"< 0.35","align":"left","baseline":"alphabetic","fontSize":22.5},
   "encoding":{"x":{"datum":334.4,"type":"quantitative","scale":{"domain":[114.375,400],"nice":false,"zero":false},"axis":null},"y":{"datum":631.4,"type":"quantitative","scale":{"domain":[0,800.05],"nice":false},"axis":null}}}
 ]
},
{"width":16,"height":1,"data":{"values":[{}]},"mark":{"type":"text","text":""}},
{
 "width":467,"height":401,"data":{"name":"p6"},
 "resolve":{"axis":{"x":"independent","y":"independent"}},
 "layer":[
  {"data":{"values":[{}]},"mark":{"type":"rect","fill":"transparent","stroke":"#000","strokeWidth":1.2},
   "encoding":{"x":{"datum":120,"type":"quantitative","scale":{"domain":[120,400],"nice":false,"zero":false},"axis":null},"x2":{"datum":400},
     "y":{"datum":0,"type":"quantitative","scale":{"domain":[0,784.3],"nice":false},"axis":null},"y2":{"datum":620}}},
  {"mark":{"type":"line","interpolate":"step-after","color":"#000","strokeWidth":1.1},
   "encoding":{"x":{"field":"x","type":"quantitative","scale":{"domain":[120,400],"nice":false,"zero":false},
      "axis":{"orient":"bottom","values":[150,200,250,300,350,400],"tickSize":-10.8,"labelPadding":15.5,"labelFontSize":19,"title":"E sum [GeV]","titleFontSize":21.5,"titleX":467,"titleY":45,"titleAlign":"right","titleBaseline":"alphabetic"}},
     "y":{"field":"k","type":"quantitative","scale":{"domain":[0,784.3],"nice":false},
      "axis":{"orient":"left","values":[0,100,200,300,400,500,600],"labelExpr":"'0'","tickSize":-12,"labelPadding":15,"labelFontSize":19,"title":null}}}},
  {"mark":{"type":"line","interpolate":"step-after","color":"#ff0000","strokeWidth":2.2},
   "encoding":{"x":{"field":"x","type":"quantitative","scale":{"domain":[120,400],"nice":false,"zero":false},
      "axis":{"orient":"bottom","values":[120,130,140,150,160,170,180,190,200,210,220,230,240,250,260,270,280,290,300,310,320,330,340,350,360,370,380,390,400],"tickSize":-5.4,"labels":false,"title":null}},
     "y":{"field":"r","type":"quantitative","scale":{"domain":[0,784.3],"nice":false},
      "axis":{"orient":"left","values":[0,20,40,60,80,100,120,140,160,180,200,220,240,260,280,300,320,340,360,380,400,420,440,460,480,500,520,540,560,580,600],"tickSize":-6,"labels":false,"title":null}}}},
  {"data":{"values":[{}]},"mark":{"type":"text","text":"Esum distribution for 0.35 < x","align":"right","baseline":"alphabetic","fontSize":23.5},
   "encoding":{"x":{"datum":328.0,"type":"quantitative","scale":{"domain":[120,400],"nice":false,"zero":false},"axis":null},"y":{"datum":647.3,"type":"quantitative","scale":{"domain":[0,784.3],"nice":false},"axis":null}}},
  {"data":{"values":[{}]},"mark":{"type":"text","text":"F","align":"left","baseline":"alphabetic","fontSize":16.5},
   "encoding":{"x":{"datum":328.9,"type":"quantitative","scale":{"domain":[120,400],"nice":false,"zero":false},"axis":null},"y":{"datum":634.4,"type":"quantitative","scale":{"domain":[0,784.3],"nice":false},"axis":null}}},
  {"data":{"values":[{}]},"mark":{"type":"text","text":"< 0.4","align":"left","baseline":"alphabetic","fontSize":23.5},
   "encoding":{"x":{"datum":337.0,"type":"quantitative","scale":{"domain":[120,400],"nice":false,"zero":false},"axis":null},"y":{"datum":647.3,"type":"quantitative","scale":{"domain":[0,784.3],"nice":false},"axis":null}}}
 ]
},
{"width":48,"height":1,"data":{"values":[{}]},"mark":{"type":"text","text":""}},
{
 "width":460,"height":403,"data":{"name":"p7"},
 "resolve":{"axis":{"x":"independent","y":"independent"}},
 "layer":[
  {"data":{"values":[{}]},"mark":{"type":"rect","fill":"transparent","stroke":"#000","strokeWidth":1.2},
   "encoding":{"x":{"datum":120,"type":"quantitative","scale":{"domain":[120,400],"nice":false,"zero":false},"axis":null},"x2":{"datum":400},
     "y":{"datum":0,"type":"quantitative","scale":{"domain":[0,307.7],"nice":false},"axis":null},"y2":{"datum":239}}},
  {"mark":{"type":"line","interpolate":"step-after","color":"#000","strokeWidth":1.1},
   "encoding":{"x":{"field":"x","type":"quantitative","scale":{"domain":[120,400],"nice":false,"zero":false},
      "axis":{"orient":"bottom","values":[150,200,250,300,350,400],"tickSize":-10.6,"labelPadding":15.5,"labelFontSize":18.5,"title":"E sum [GeV]","titleFontSize":21.5,"titleX":460,"titleY":43,"titleAlign":"right","titleBaseline":"alphabetic"}},
     "y":{"field":"k","type":"quantitative","scale":{"domain":[0,307.7],"nice":false},
      "axis":{"orient":"left","values":[0,20,40,60,80,100,120,140,160,180,200,220],"tickSize":-13.8,"labelPadding":18.5,"labelFontSize":18.5,"title":"yield","titleFontSize":20,"titleAngle":270,"titleAlign":"right","titleBaseline":"alphabetic","titleX":-48,"titleY":90}}}},
  {"mark":{"type":"line","interpolate":"step-after","color":"#ff0000","strokeWidth":2.2},
   "encoding":{"x":{"field":"x","type":"quantitative","scale":{"domain":[120,400],"nice":false,"zero":false},
      "axis":{"orient":"bottom","values":[120,130,140,150,160,170,180,190,200,210,220,230,240,250,260,270,280,290,300,310,320,330,340,350,360,370,380,390,400],"tickSize":-5.3,"labels":false,"title":null}},
     "y":{"field":"r","type":"quantitative","scale":{"domain":[0,307.7],"nice":false},
      "axis":{"orient":"left","values":[0,5,10,15,20,25,30,35,40,45,50,55,60,65,70,75,80,85,90,95,100,105,110,115,120,125,130,135,140,145,150,155,160,165,170,175,180,185,190,195,200,205,210,215,220,225,230,235],"tickSize":-6.9,"labels":false,"title":null}}}},
  {"data":{"values":[{}]},"mark":{"type":"text","text":"Esum distribution for 0.4  < x","align":"right","baseline":"alphabetic","fontSize":23},
   "encoding":{"x":{"datum":325.9,"type":"quantitative","scale":{"domain":[120,400],"nice":false,"zero":false},"axis":null},"y":{"datum":250.7,"type":"quantitative","scale":{"domain":[0,307.7],"nice":false},"axis":null}}},
  {"data":{"values":[{}]},"mark":{"type":"text","text":"F","align":"left","baseline":"alphabetic","fontSize":16},
   "encoding":{"x":{"datum":326.3,"type":"quantitative","scale":{"domain":[120,400],"nice":false,"zero":false},"axis":null},"y":{"datum":245.9,"type":"quantitative","scale":{"domain":[0,307.7],"nice":false},"axis":null}}},
  {"data":{"values":[{}]},"mark":{"type":"text","text":"< 0.45","align":"left","baseline":"alphabetic","fontSize":23},
   "encoding":{"x":{"datum":334.6,"type":"quantitative","scale":{"domain":[120,400],"nice":false,"zero":false},"axis":null},"y":{"datum":250.7,"type":"quantitative","scale":{"domain":[0,307.7],"nice":false},"axis":null}}},
  {"data":{"values":[{}]},"mark":{"type":"text","text":"9","align":"center","baseline":"middle","fontSize":28,"font":"Lato","color":"#898989"},
   "encoding":{"x":{"datum":782.9,"type":"quantitative","scale":{"domain":[120,400],"nice":false,"zero":false},"axis":null},"y":{"datum":13,"type":"quantitative","scale":{"domain":[0,307.7],"nice":false},"axis":null}}}
 ]
},
{"width":113,"height":1,"data":{"values":[{}]},"mark":{"type":"text","text":""}},
{"width":1,"height":1,"data":{"values":[{}]},"mark":{"type":"text","text":""}}
]
}
